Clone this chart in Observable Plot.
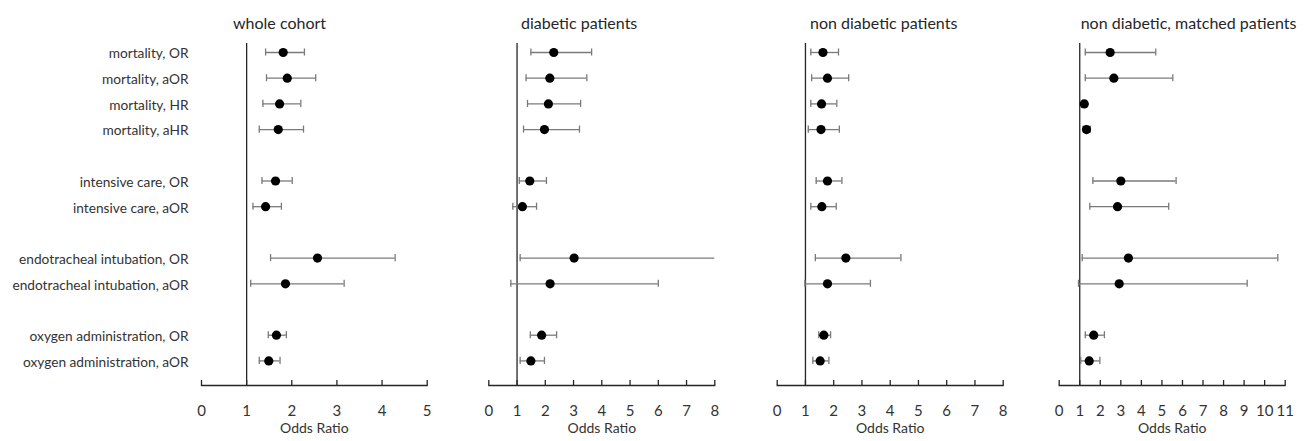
<!DOCTYPE html>
<html><head><meta charset="utf-8">
<script src="https://cdn.jsdelivr.net/npm/d3@7"></script>
<script src="https://cdn.jsdelivr.net/npm/@observablehq/plot@0.6"></script>
<style>
body{margin:0;background:#fff;font-family:Lato,sans-serif}
#chart{position:relative;width:1309px;height:441px;overflow:hidden}
.panel{position:absolute;top:0;height:441px}
.title{position:absolute;top:13px;font-size:16px;line-height:1.2;color:#262626;white-space:nowrap}
.panel svg{position:absolute;top:30px;left:0;max-width:none;background:transparent}
</style></head>
<body><div id="chart"></div>
<script>
const categories = ["mortality, OR","mortality, aOR","mortality, HR","mortality, aHR",
  "intensive care, OR","intensive care, aOR",
  "endotracheal intubation, OR","endotracheal intubation, aOR",
  "oxygen administration, OR","oxygen administration, aOR"];
const groupBreaks = [4, 6, 8];

const panelTitles = ["whole cohort","diabetic patients","non diabetic patients","non diabetic, matched patients"];

const wholeEst = [1.81,1.90,1.73,1.70,1.64,1.42,2.57,1.86,1.66,1.49];
const wholeLo  = [1.42,1.44,1.36,1.28,1.34,1.14,1.53,1.09,1.48,1.28];
const wholeHi  = [2.28,2.53,2.20,2.26,2.01,1.77,4.29,3.16,1.88,1.74];

const diabEst = [2.30,2.16,2.11,1.97,1.45,1.19,3.02,2.17,1.87,1.49];
const diabLo  = [1.49,1.32,1.37,1.23,1.08,0.85,1.11,0.78,1.47,1.11];
const diabHi  = [3.64,3.47,3.25,3.21,2.04,1.69,8.00,6.00,2.40,1.97];

const nonDiabEst = [1.62,1.78,1.57,1.55,1.78,1.58,2.43,1.78,1.65,1.52];
const nonDiabLo  = [1.19,1.22,1.19,1.10,1.38,1.19,1.35,0.98,1.47,1.26];
const nonDiabHi  = [2.17,2.53,2.11,2.20,2.29,2.09,4.38,3.30,1.89,1.83];

const matchedEst = [2.48,2.66,1.22,1.33,3.00,2.84,3.37,2.92,1.68,1.46];
const matchedLo  = [1.27,1.27,1.12,1.17,1.64,1.49,1.12,0.94,1.27,1.05];
const matchedHi  = [4.70,5.53,1.33,1.51,5.69,5.33,10.64,9.15,2.20,1.98];

const ticks5 = [0,1,2,3,4,5];
const ticks8 = [0,1,2,3,4,5,6,7,8];
const ticks11 = [0,1,2,3,4,5,6,7,8,9,10,11];

// y domain with blank slots between the outcome groups
const yDomain = [];
categories.forEach((c, i) => {
  if (groupBreaks.includes(i)) yDomain.push("gap" + i);
  yDomain.push(c);
});

const panels = [
  {title: panelTitles[0], est: wholeEst, lo: wholeLo, hi: wholeHi, ticks: ticks5, left: 0, width: 460, r0: 201, r1: 426.7, titleLeft: 233, labels: true},
  {title: panelTitles[1], est: diabEst, lo: diabLo, hi: diabHi, ticks: ticks8, left: 460, width: 290, r0: 28.3, r1: 254.3, titleLeft: 521 - 460, labels: false},
  {title: panelTitles[2], est: nonDiabEst, lo: nonDiabLo, hi: nonDiabHi, ticks: ticks8, left: 750, width: 285, r0: 26.7, r1: 252.7, titleLeft: 810 - 750, labels: false},
  {title: panelTitles[3], est: matchedEst, lo: matchedLo, hi: matchedHi, ticks: ticks11, left: 1035, width: 274, r0: 23.7, r1: 249.7, titleLeft: 1080.7 - 1035, labels: false}
];

const chart = document.getElementById("chart");
const H = 411, mTop = 13, mBottom = 56;
const barColor = "#7a7a7a", textColor = "#333";

for (const p of panels) {
  const data = categories.map((c, i) => ({cat: c, est: p.est[i], lo: p.lo[i], hi: p.hi[i]}));
  const xMax = p.ticks[p.ticks.length - 1];
  const div = document.createElement("div");
  div.className = "panel";
  div.style.left = p.left + "px";
  div.style.width = p.width + "px";
  const t = document.createElement("div");
  t.className = "title";
  t.style.left = p.titleLeft + "px";
  t.textContent = p.title;
  div.appendChild(t);

  const marks = [
    Plot.frame({anchor: "bottom", stroke: "#262626", strokeWidth: 1.3}),
    Plot.ruleX([1], {stroke: "#262626", strokeWidth: 1.3}),
    Plot.axisX({ticks: p.ticks, tickSize: 5, dy: -5, fill: "none", stroke: "#262626", strokeWidth: 1.3, label: null}),
    Plot.axisX({ticks: p.ticks, tickSize: 0, tickPadding: 20, label: null, fill: textColor, fontSize: 15, tickFormat: d3.format("d")}),
    Plot.text(["Odds Ratio"], {frameAnchor: "bottom", dy: 47, fill: textColor, fontSize: 14}),
    Plot.ruleY(data, {y: "cat", x1: "lo", x2: "hi", stroke: barColor, strokeWidth: 1.3}),
    Plot.tickX(data, {x: "lo", y: "cat", stroke: barColor, strokeWidth: 1.3, insetTop: 9.3, insetBottom: 9.3}),
    Plot.tickX(data.filter(d => d.hi < xMax), {x: "hi", y: "cat", stroke: barColor, strokeWidth: 1.3, insetTop: 9.3, insetBottom: 9.3}),
    Plot.dot(data, {x: "est", y: "cat", r: 4.6, fill: "#000", stroke: null})
  ];
  if (p.labels) {
    marks.push(Plot.axisY({tickSize: 0, tickPadding: 13, dy: 1.5, label: null, fill: textColor, fontSize: 13.7,
      tickFormat: d => d.startsWith("gap") ? "" : d}));
  }

  const svg = Plot.plot({
    width: p.width, height: H,
    marginLeft: p.r0, marginRight: p.width - p.r1, marginTop: mTop, marginBottom: mBottom,
    x: {domain: [0, xMax], range: [p.r0, p.r1]},
    y: {type: "band", domain: yDomain, range: [9.15, 343.25], padding: 0, round: false, axis: p.labels ? undefined : null},
    style: {fontFamily: "Lato, sans-serif", fontSize: "14px", color: textColor, background: "transparent", overflow: "visible"},
    marks
  });
  div.appendChild(svg);
  chart.appendChild(div);
}
</script>
</body></html>
